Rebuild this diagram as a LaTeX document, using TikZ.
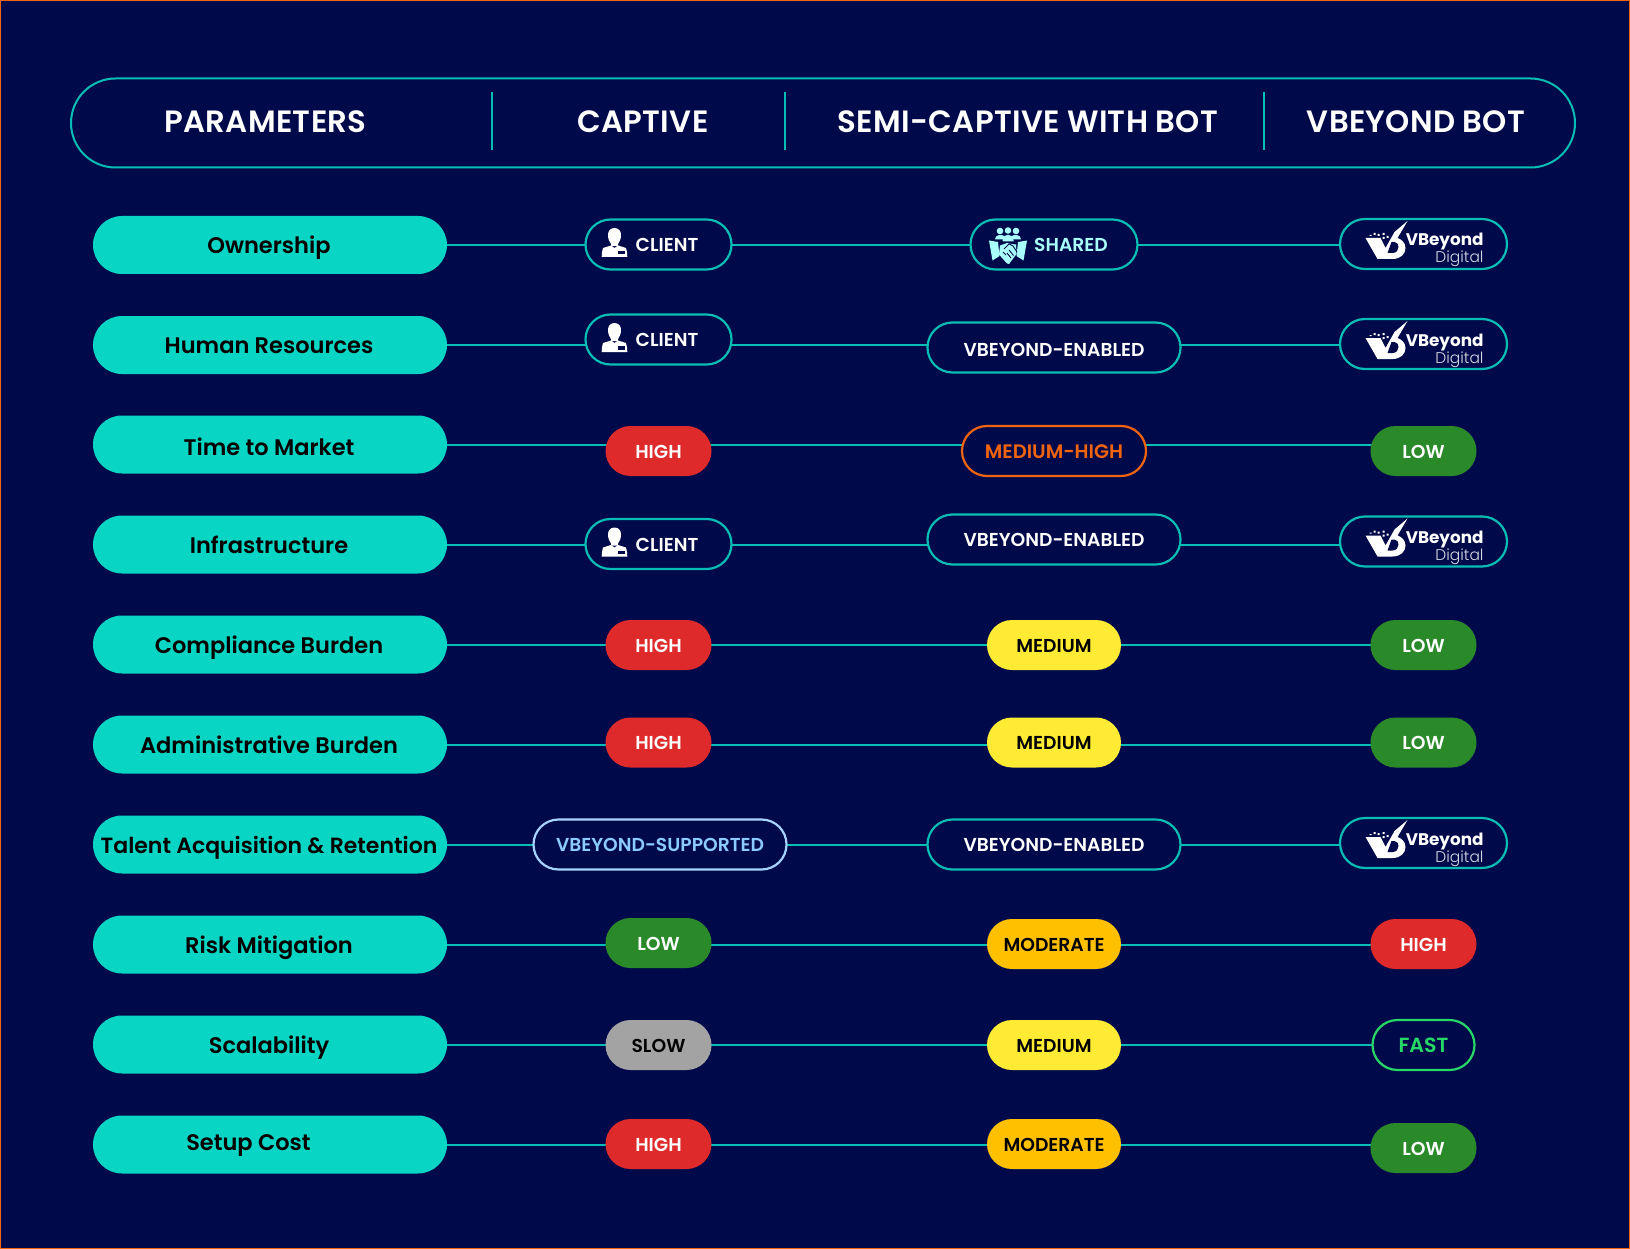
\documentclass[tikz,border=0pt]{standalone}
\usepackage{fontspec}
\setmainfont{Poppins Medium}
\newfontfamily\semi{Poppins SemiBold}
\newfontfamily\semih[LetterSpace=1]{Poppins SemiBold}
\newfontfamily\boldf{Poppins Bold}
\newfontfamily\lightf{Poppins Light}
\usetikzlibrary{shapes.misc,backgrounds,calc}
\definecolor{bgc}{HTML}{000A4A}
\definecolor{tealf}{HTML}{08D5C3}
\definecolor{tealb}{HTML}{08BDB5}
\definecolor{redc}{HTML}{DE2A2A}
\definecolor{greenc}{HTML}{2A8A2A}
\definecolor{yelc}{HTML}{FFEB33}
\definecolor{ambc}{HTML}{FFC000}
\definecolor{grayc}{HTML}{A3A3A3}
\definecolor{orgc}{HTML}{F0640F}
\definecolor{skyc}{HTML}{A6D2FF}
\definecolor{skyt}{HTML}{8CCBFF}
\definecolor{fastc}{HTML}{26D966}
\definecolor{aquac}{HTML}{A8FFFB}
\tikzset{
 x=1pt,y=-1pt,
 basepill/.style={rounded rectangle,inner sep=0pt,outer sep=0pt,minimum height=50pt,text height=14pt,text depth=0pt,font=\semi\fontsize{18.7}{20}\selectfont},
 param/.style={basepill,fill=tealf,text=black,minimum width=354pt,minimum height=58pt,text height=17.5pt,font=\semi\fontsize{22.5}{24}\selectfont},
 hdr/.style={inner sep=0pt,outer sep=0pt,text=white,text height=21.5pt,text depth=0pt,font=\semih\fontsize{30.8}{33}\selectfont},
 outl/.style={basepill,draw=tealb,line width=2.2pt,fill=bgc,text=white},
 solid red/.style={basepill,fill=redc,text=white,minimum width=106pt},
 solid green/.style={basepill,fill=greenc,text=white,minimum width=106pt},
 solid yel/.style={basepill,fill=yelc,text=black,minimum width=134pt},
 solid amb/.style={basepill,fill=ambc,text=black,minimum width=134pt},
 solid gray/.style={basepill,fill=grayc,text=black,minimum width=106pt},
 clientp/.style={outl,minimum width=146pt},
 enabledp/.style={outl,minimum width=253pt},
 logop/.style={outl,minimum width=167pt},
 link/.style={draw=tealb,line width=2pt},
 divider/.style={draw=tealb,line width=2pt},
}
% person icon, relative to the centre of its pill
\newcommand\personicon[1]{%
 \begin{scope}[shift={($(#1.center)+(-44,-1.5)$)}]
  \fill[white] (0,-15) .. controls (5,-15) and (6.5,-11) .. (6.5,-8) .. controls (6.5,-4) and (5,-1) .. (3.5,1) -- (3.5,3) -- (-3.5,3) -- (-3.5,1) .. controls (-5,-1) and (-6.5,-4) .. (-6.5,-8) .. controls (-6.5,-11) and (-5,-15) .. (0,-15) -- cycle;
  \fill[white] (-3.5,2.5) -- (0,5) -- (3.5,2.5) -- (11.5,5) .. controls (12.5,8) and (12.8,11) .. (12.8,14) -- (-12.8,14) .. controls (-12.8,11) and (-12.5,8) .. (-11.5,5) -- cycle;
  \fill[bgc] (3.5,8) rectangle (10,11.5);
 \end{scope}}
% handshake icon, relative to the centre of its pill
\newcommand\shakeicon[1]{%
 \begin{scope}[shift={($(#1.center)+(-46,0.5)$)},aquac]
  \foreach \px/\py in {-8/-14,0/-14.5,8/-14}{\fill (\px,\py) circle (3.3pt);}
  \fill (-13,-5.5) .. controls (-13,-10.5) and (-6,-11) .. (-4,-9) -- (-4,-5.5) -- cycle;
  \fill (13,-5.5) .. controls (13,-10.5) and (6,-11) .. (4,-9) -- (4,-5.5) -- cycle;
  \fill (-5.5,-5) .. controls (-5.5,-12) and (5.5,-12) .. (5.5,-5) -- (5.5,-3.5) -- (-5.5,-3.5) -- cycle;
  \fill (-19,-4.5) -- (-10,-3) -- (-8.5,11) -- (-15.5,15.5) -- cycle;
  \fill (19,-4.5) -- (10,-3) -- (8.5,11) -- (15.5,15.5) -- cycle;
  \fill (-8,0.5) -- (-1,-2) -- (3,-1) -- (8,-0.5) -- (8.5,9) -- (1,19) -- (-1,18.5) -- (-9,9.5) -- cycle;
  \draw[bgc,line width=.9pt] (-4,4) -- (1,-1) -- (5,1) -- (9,7) (1,5) -- (5.5,10.5) (-1,8) -- (3,13) (-5,7) -- (-2,10);
 \end{scope}}
% VBeyond logo, relative to the centre of its pill
\newcommand\logoicon[1]{%
 \begin{scope}[shift={(#1.center)}]
  \fill[white] (-58,-6) -- (-43,-6) -- (-38,4) -- (-29,-12) -- (-16,-23) -- (-26,-6) .. controls (-23,-5) and (-18,-2) .. (-18,4) .. controls (-18,10) and (-23,15) .. (-31,15) -- (-46,15) -- cycle;
  \fill[bgc] (-32,-2) -- (-29,-2) .. controls (-26,-2) and (-25,1) .. (-25,3) .. controls (-25,6) and (-27,9) .. (-31,9) -- (-36,9) -- cycle;
  \fill[white] (-50,-11) rectangle (-48,-9) (-46,-10) rectangle (-44,-8) (-54,-9) rectangle (-52,-8) (-41,-11) rectangle (-39,-9) (-37,-8) rectangle (-35,-6) (-41,-7) rectangle (-39,-5);
  \node[inner sep=0pt,outer sep=0pt,text=white,font=\boldf\fontsize{16.8}{18}\selectfont,anchor=base east] (lgv#1) at (60,2) {VBeyond};
  \node[inner sep=0pt,outer sep=0pt,text=white!85!bgc,font=\lightf\fontsize{15.5}{17}\selectfont,anchor=base east] (lgd#1) at (60,19) {Digital};
 \end{scope}}
\begin{document}
\begin{tikzpicture}
\useasboundingbox (0,0) rectangle (1630,1249);
\begin{scope}[on background layer]
 \fill[bgc] (0,0) rectangle (1630,1249);
 \draw[orgc,line width=2pt] (0,0) rectangle (1630,1249);
\end{scope}
% header
\node[rounded rectangle,draw=tealb,line width=2pt,inner sep=0pt,outer sep=0pt,minimum width=1504pt,minimum height=89pt] (head) at (823,123) {};
\node[hdr] (h1) at (265.5,121.5) {PARAMETERS};
\node[hdr] (h2) at (643,121.5) {CAPTIVE};
\node[hdr] (h3) at (1028,121.5) {SEMI-CAPTIVE WITH BOT};
\node[hdr] (h4) at (1416,121.5) {VBEYOND BOT};
\coordinate (d1a) at (491.5,92); \coordinate (d1b) at (491.5,150);
\coordinate (d2a) at (785,92); \coordinate (d2b) at (785,150);
\coordinate (d3a) at (1264,92); \coordinate (d3b) at (1264,150);
\draw[divider] (d1a) -- (d1b) (d2a) -- (d2b) (d3a) -- (d3b);
% left column
\foreach \n/\yy/\tx in {1/245/Ownership,2/345/Human Resources,4/544.5/Infrastructure,5/644.5/Compliance Burden,6/744.5/Administrative Burden,8/944.5/Risk Mitigation,9/1044.5/Scalability}
 {\node[param] (p\n) at (270,\yy) {\hspace{-2pt}\tx};}
\node[param] (p3) at (270,444.5) {\hspace{-2pt}\raisebox{-2.5pt}{Time to Market}};
\node[param,font=\semi\fontsize{22}{24}\selectfont] (p7) at (270,844.5) {\hspace{-2pt}Talent Acquisition \& Retention};
\node[param] (p10) at (270,1144.5) {\hspace{-43pt}\raisebox{2.5pt}{Setup Cost}};
% captive column
\node[clientp] (a1) at (658.5,244.5) {\hspace{17pt}CLIENT};
\node[clientp] (a2) at (658.5,339.5) {\hspace{17pt}CLIENT};
\node[solid red] (a3) at (658.5,451) {HIGH};
\node[clientp] (a4) at (658.5,544) {\hspace{17pt}CLIENT};
\node[solid red] (a5) at (658.5,645) {HIGH};
\node[solid red] (a6) at (658.5,742.5) {HIGH};
\node[outl,draw=skyc,text=skyt,minimum width=253pt] (a7) at (660,844.5) {VBEYOND-SUPPORTED};
\node[solid green] (a8) at (658.5,943) {LOW};
\node[solid gray] (a9) at (658.5,1045) {SLOW};
\node[solid red] (a10) at (658.5,1144) {HIGH};
% semi-captive column
\node[outl,text=aquac,minimum width=167pt] (b1) at (1054,244.5) {\hspace{34pt}SHARED};
\node[enabledp] (b2) at (1054,347.5) {\raisebox{-1.5pt}{VBEYOND-ENABLED}};
\node[outl,draw=orgc,text=orgc,minimum width=184pt,font=\semi\fontsize{19.5}{21}\selectfont] (b3) at (1054,451) {MEDIUM-HIGH};
\node[enabledp] (b4) at (1054,539.5) {VBEYOND-ENABLED};
\node[solid yel] (b5) at (1054,645) {MEDIUM};
\node[solid yel] (b6) at (1054,742.5) {MEDIUM};
\node[enabledp] (b7) at (1054,844.5) {VBEYOND-ENABLED};
\node[solid amb] (b8) at (1054,944) {MODERATE};
\node[solid yel] (b9) at (1054,1045) {MEDIUM};
\node[solid amb] (b10) at (1054,1144) {MODERATE};
% bot column
\node[logop] (c1) at (1423.5,244) {};
\node[logop] (c2) at (1423.5,344) {};
\node[solid green] (c3) at (1423.5,451) {LOW};
\node[logop] (c4) at (1423.5,541.5) {};
\node[solid green] (c5) at (1423.5,645) {LOW};
\node[solid green] (c6) at (1423.5,742.5) {LOW};
\node[logop] (c7) at (1423.5,843) {};
\node[solid red] (c8) at (1423.5,944) {HIGH};
\node[outl,draw=fastc,text=fastc,minimum width=102pt,font=\semi\fontsize{20.5}{22}\selectfont] (c9) at (1423.5,1045) {FAST};
\node[solid green] (c10) at (1423.5,1148) {LOW};
% connectors run behind the filled pills
\begin{scope}[on background layer]
 \foreach \n in {1,...,10}{
  \draw[link] (p\n.center) -- (p\n.center -| a\n.center);
  \draw[link] (p\n.center -| a\n.center) -- (p\n.center -| b\n.center);
  \draw[link] (p\n.center -| b\n.center) -- (p\n.center -| c\n.center);
 }
\end{scope}
% icons
\personicon{a1}
\personicon{a2}
\personicon{a4}
\shakeicon{b1}
\logoicon{c1}
\logoicon{c2}
\logoicon{c4}
\logoicon{c7}
\end{tikzpicture}
\end{document}
